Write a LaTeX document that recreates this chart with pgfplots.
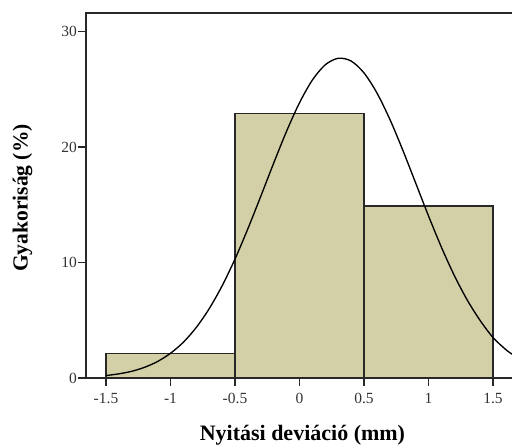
\documentclass[border=0pt]{standalone}
\usepackage{fontspec}
\setmainfont{Liberation Serif}
\usepackage{pgfplots}
\pgfplotsset{compat=1.18}
\definecolor{barfill}{RGB}{211,207,166}
\definecolor{axisgray}{RGB}{40,40,40}
\begin{document}
\begin{tikzpicture}
\begin{axis}[
  scale only axis, width=426pt, height=365pt,
  xmin=-1.655, xmax=1.647, ymin=0, ymax=31.6,
  axis x line*=bottom, axis y line*=left,
  axis line style={axisgray, line width=1.4pt},
  tick style={axisgray, line width=1.2pt},
  tick align=outside, major tick length=8pt,
  xtick={-1.5,-1,-0.5,0,0.5,1,1.5},
  xticklabels={-1.5,-1,-0.5,0,0.5,1,1.5},
  ytick={0,10,20,30},
  /pgf/number format/assume math mode=true,
  tick label style={font=\fontsize{15.5}{17}\selectfont, text=black!80},
  yticklabel style={inner sep=1pt, font=\fontsize{15.5}{17}\selectfont},
  xticklabel style={inner sep=1pt, yshift=-6pt, font=\fontsize{15.5}{17}\selectfont},
  xlabel={Nyitási deviáció (mm)},
  xlabel style={font=\bfseries\fontsize{22}{25}\selectfont,
    at={(axis description cs:0.508,-0.170)}, anchor=base},
  ylabel={Gyakoriság (\%)},
  ylabel style={font=\bfseries\fontsize{21.5}{24}\selectfont,
    at={(axis description cs:-0.149,0.493)}, anchor=center},
]
% histogram of the opening deviation
\addplot[ybar interval, fill=barfill, draw=axisgray, line width=1.3pt]
  coordinates {(-1.5,2.1) (-0.5,22.9) (0.5,14.9) (1.5,14.9)};
% fitted normal curve
\addplot[smooth, black, line width=1.35pt] coordinates {
  (-1.5,0.21) (-1.4,0.36) (-1.3,0.58) (-1.2,0.93) (-1.1,1.43)
  (-1.0,2.14) (-0.9,3.10) (-0.8,4.38) (-0.7,6.00) (-0.6,7.98)
  (-0.5,10.30) (-0.4,12.93) (-0.3,15.74) (-0.2,18.61) (-0.1,21.37)
  (0.0,23.83) (0.1,25.80) (0.2,27.12) (0.3,27.68) (0.4,27.44)
  (0.5,26.41) (0.6,24.68) (0.7,22.40) (0.8,19.74) (0.9,16.89)
  (1.0,14.03) (1.1,11.32) (1.2,8.87) (1.3,6.75) (1.4,4.98)
  (1.5,3.50) (1.6,2.45) (1.65,2.05)
};
\end{axis}
\draw[axisgray, line width=1.4pt, line cap=rect]
  (current axis.north west) -- (current axis.north east);
\pgfresetboundingbox
\path[use as bounding box]
  ([xshift=-86pt, yshift=-68pt]current axis.south west)
  rectangle ([yshift=13pt]current axis.north east);
\end{tikzpicture}
\end{document}
